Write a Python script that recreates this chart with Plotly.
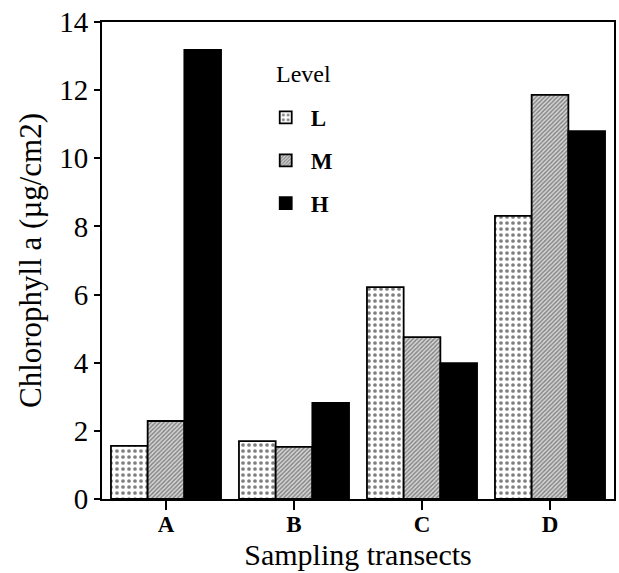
import plotly.graph_objects as go

transects = ["A", "B", "C", "D"]
level_L = [1.56, 1.70, 6.22, 8.31]
level_M = [2.29, 1.53, 4.75, 11.86]
level_H = [13.18, 2.82, 3.99, 10.80]
y_ticks = [0, 2, 4, 6, 8, 10, 12, 14]

FONT = "Liberation Serif"

fig = go.Figure()
fig.add_trace(go.Bar(
    name="<b>L</b>", x=transects, y=level_L, legendgroup="L",
    marker=dict(color="white", line=dict(color="black", width=1.8),
                pattern=dict(shape=".", size=6, solidity=0.3, fgcolor="black", bgcolor="white")),
))
fig.add_trace(go.Bar(
    name="<b>M</b>", x=transects, y=level_M, legendgroup="M",
    marker=dict(color="#999999", line=dict(color="black", width=1.8),
                pattern=dict(shape="/", size=3, solidity=0.5, fgcolor="#333333", bgcolor="#d8d8d8")),
))
fig.add_trace(go.Bar(
    name="<b>H</b>", x=transects, y=level_H, legendgroup="H",
    marker=dict(color="black", line=dict(color="black", width=1.8)),
))

fig.update_layout(
    width=619, height=573,
    margin=dict(l=102, r=3, t=22, b=74),
    paper_bgcolor="white", plot_bgcolor="white",
    barmode="group", bargap=0.14, bargroupgap=0,
    font=dict(family=FONT, color="black", size=22),
    showlegend=True,
    legend=dict(
        x=0.31, y=0.845, xanchor="left", yanchor="top",
        bgcolor="rgba(0,0,0,0)", font=dict(size=23, family=FONT),
        tracegroupgap=10, itemwidth=40,
    ),
    annotations=[dict(
        text="Level", xref="paper", yref="paper", x=0.335, y=0.89,
        xanchor="left", yanchor="middle", showarrow=False,
        font=dict(size=24, family=FONT),
    )],
    xaxis=dict(
        title=dict(text="Sampling transects", font=dict(size=30, family=FONT), standoff=8),
        tickfont=dict(size=23, family=FONT),
        tickvals=transects, ticktext=["<b>%s</b>" % t for t in transects],
        ticks="outside", ticklen=9, tickwidth=2, tickcolor="black",
        ticklabelstandoff=-6,
        showline=True, linecolor="black", linewidth=2, mirror=True,
        showgrid=False,
    ),
    yaxis=dict(
        title=dict(text="Chlorophyll a (\u00b5g/cm2)", font=dict(size=31, family=FONT), standoff=8),
        range=[0, 14], tickvals=y_ticks,
        tickfont=dict(size=29, family=FONT),
        ticks="outside", ticklen=6, tickwidth=2, tickcolor="black",
        showline=True, linecolor="black", linewidth=2, mirror=True,
        showgrid=False, zeroline=False,
    ),
)

fig.write_html("out.html")
